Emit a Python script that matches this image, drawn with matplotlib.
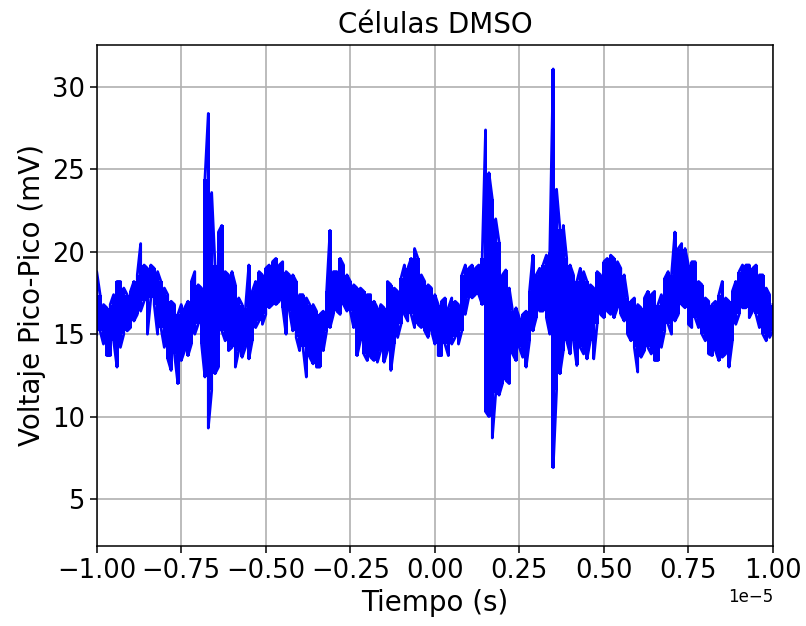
import numpy as np
import matplotlib
matplotlib.use('Agg')
import matplotlib.pyplot as plt

# Tiempo en unidades de 1e-5 s (de -1.00 a 1.00, paso 0.01)
v_high = [18.8, 17.4, 16.8, 16.6, 16.8, 17.4, 18.2, 18.2, 17.8, 17.4,
          17.6, 18.2, 18.6, 20.5, 19.2, 19.0, 19.2, 19.0, 18.8, 18.2,
          17.8, 17.4, 17.0, 16.8, 16.2, 16.8, 16.6, 17.0, 18.2, 18.8,
          18.0, 17.8, 24.4, 28.4, 23.6, 19.2, 21.2, 21.6, 18.8, 18.6,
          18.8, 18.0, 17.2, 16.8, 16.6, 19.2, 17.6, 18.2, 18.8, 18.6,
          19.0, 19.2, 19.4, 19.6, 19.2, 19.4, 18.8, 18.6, 18.6, 18.2,
          17.4, 17.4, 17.2, 16.8, 16.8, 16.4, 16.2, 16.4, 17.6, 21.3,
          18.8, 18.8, 19.6, 19.2, 18.6, 18.2, 18.0, 17.8, 17.8, 17.6,
          17.4, 17.4, 17.0, 16.6, 16.8, 16.6, 18.2, 18.0, 17.8, 17.6,
          18.4, 19.2, 19.0, 19.6, 20.2, 19.6, 18.6, 18.2, 18.0, 17.8,
          17.4, 16.8, 17.0, 17.2, 16.6, 17.2, 17.0, 16.8, 18.6, 19.2,
          19.0, 19.2, 19.0, 19.2, 19.6, 27.4, 24.8, 23.2, 22.0, 20.6,
          18.6, 18.9, 17.8, 16.4, 16.6, 16.0, 16.2, 16.4, 17.6, 19.8,
          18.6, 19.0, 19.2, 19.8, 20.0, 31.1, 23.8, 21.4, 21.6, 19.6,
          19.2, 18.6, 18.2, 19.0, 18.8, 18.2, 18.0, 17.8, 18.8, 18.6,
          19.4, 19.6, 19.8, 19.6, 19.4, 19.0, 18.6, 17.2, 17.0, 17.2,
          16.8, 16.6, 17.2, 17.6, 17.4, 17.6, 16.8, 17.4, 18.4, 18.8,
          18.6, 21.2, 20.2, 20.5, 20.2, 19.2, 19.4, 19.4, 18.2, 18.0,
          17.2, 17.0, 16.8, 17.0, 17.4, 18.2, 17.2, 17.0, 17.6, 18.2,
          18.8, 19.2, 19.2, 19.2, 19.0, 19.2, 18.6, 18.6, 17.8, 17.4, 16.8]

v_low = [15.0, 15.2, 14.4, 13.7, 13.7, 14.6, 13.0, 14.2, 15.0, 15.2,
         15.4, 15.8, 16.2, 16.4, 17.0, 15.0, 17.2, 16.8, 15.0, 15.4,
         14.2, 13.5, 12.8, 13.8, 12.0, 13.4, 14.0, 13.7, 14.4, 15.0,
         15.6, 14.4, 12.4, 9.3, 11.6, 12.6, 13.0, 15.2, 14.6, 14.0,
         14.2, 13.0, 14.0, 13.6, 14.2, 13.5, 14.6, 15.4, 15.8, 15.6,
         16.2, 16.6, 16.8, 16.8, 17.0, 16.6, 15.0, 16.4, 15.2, 14.8,
         14.0, 14.2, 12.4, 13.6, 13.2, 13.0, 13.0, 14.0, 15.2, 15.4,
         16.2, 16.4, 16.2, 16.8, 16.4, 16.4, 15.4, 13.7, 14.6, 13.8,
         13.4, 13.6, 13.4, 13.3, 14.0, 13.3, 14.0, 12.8, 14.4, 14.8,
         15.6, 16.2, 15.8, 16.2, 15.4, 15.6, 15.4, 15.2, 14.8, 15.2,
         14.4, 13.7, 13.7, 14.4, 13.7, 14.4, 14.8, 14.4, 15.2, 16.2,
         17.2, 17.2, 17.4, 17.4, 16.8, 10.3, 10.0, 8.7, 11.4, 11.3,
         12.0, 12.2, 12.0, 13.8, 13.4, 14.2, 13.6, 13.0, 14.6, 15.2,
         16.0, 16.4, 16.4, 16.0, 15.0, 6.9, 11.6, 12.6, 14.0, 14.6,
         13.8, 14.6, 13.1, 14.2, 13.8, 13.5, 14.6, 13.5, 15.6, 16.2,
         16.0, 16.4, 16.2, 16.0, 16.6, 16.2, 15.8, 15.0, 14.6, 14.2,
         12.7, 13.6, 14.0, 14.2, 13.8, 13.4, 13.4, 14.2, 15.2, 15.6,
         15.0, 15.8, 16.2, 16.8, 16.6, 15.6, 15.4, 16.0, 15.4, 15.0,
         14.6, 13.8, 13.7, 14.0, 13.4, 13.6, 13.8, 13.0, 14.6, 15.6,
         16.2, 16.6, 16.6, 16.0, 16.4, 16.2, 15.4, 15.0, 14.6, 14.8, 15.2]

t_ini = -1.0e-5
t_fin = 1.0e-5

# instantes de muestreo (uniformes)
t = np.linspace(t_ini, t_fin, len(v_high))

# trazo en zigzag: min/max en cada instante, alternando el orden
x = np.repeat(t, 2)
y = []
for i in range(len(t)):
    if i % 2 == 0:
        y += [v_low[i], v_high[i]]
    else:
        y += [v_high[i], v_low[i]]

fig = plt.figure(figsize=(8.06, 6.26), dpi=100)
ax = fig.add_axes([0.120, 0.128, 0.839, 0.800])

# cuerpo de la banda (columnas por muestra) + trazo, por encima de la rejilla
ax.fill_between(t, v_low, v_high, step='mid', color='blue', linewidth=0, zorder=2)
ax.plot(x, y, color='blue', linewidth=2.0, zorder=2)

ax.set_xlim(t_ini, t_fin)
ax.set_ylim(2.15, 32.55)
ax.set_xticks(np.linspace(-1e-5, 1e-5, 9))
ax.set_yticks([5, 10, 15, 20, 25, 30])

ax.set_title('Células DMSO', fontsize=20, pad=9)
ax.set_xlabel('Tiempo (s)', fontsize=20)
ax.set_ylabel('Voltaje Pico-Pico (mV)', fontsize=20)
ax.tick_params(labelsize=18.5, length=5, width=1.1)
ax.xaxis.get_offset_text().set_fontsize(12)
ax.grid(True, color='#b0b0b0', linewidth=1.2)
for s in ax.spines.values():
    s.set_linewidth(1.1)

fig.savefig('out.png', dpi=100)
